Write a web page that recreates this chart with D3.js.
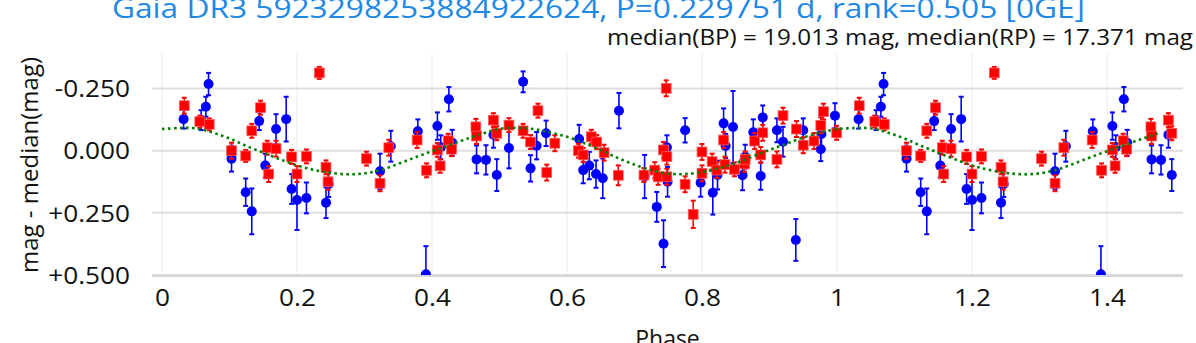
<!DOCTYPE html>
<html>
<head>
<meta charset="utf-8">
<script src="https://cdn.jsdelivr.net/npm/d3@7"></script>
<style>
  body { margin: 0; background: #fff; }
  svg { display: block; font-family: "Open Sans", sans-serif; }
</style>
</head>
<body>
<svg width="1196" height="343"></svg>
<script>
// BP (blue) points: phase, mag - median, error
var bpPhase = [0.032, 0.058, 0.065, 0.069, 0.103, 0.124, 0.133, 0.144, 0.153, 0.169, 0.184, 0.192, 0.200, 0.214, 0.243, 0.247,
  0.323, 0.339, 0.379, 0.391, 0.408, 0.413, 0.425, 0.430, 0.466, 0.480, 0.491, 0.496,
  0.514, 0.535, 0.546, 0.555, 0.569, 0.618, 0.624, 0.633, 0.643, 0.653, 0.677, 0.715, 0.733, 0.743, 0.748, 0.749,
  0.775, 0.798, 0.816, 0.823, 0.832, 0.835, 0.846, 0.860, 0.864, 0.876, 0.887, 0.890, 0.911, 0.920, 0.939, 0.950, 0.977, 0.976, 0.997];
var bpMag = [-0.127, -0.123, -0.177, -0.268, 0.032, 0.167, 0.244, -0.119, 0.060, -0.087, -0.127, 0.154, 0.198, 0.190, 0.209, 0.134,
  0.083, -0.018, -0.078, 0.497, -0.099, -0.014, -0.207, -0.032, 0.035, 0.037, -0.064, 0.098,
  -0.011, -0.277, 0.071, -0.020, -0.070, -0.047, 0.078, 0.060, 0.094, 0.111, -0.161, 0.104, 0.226, 0.374, -0.014, 0.125,
  -0.082, 0.129, 0.169, 0.098, -0.110, -0.019, -0.095, 0.099, 0.024, -0.074, 0.102, -0.134, -0.082, -0.036, 0.359, -0.082, -0.067, -0.006, -0.141];
var bpErr = [0.038, 0.040, 0.040, 0.045, 0.052, 0.055, 0.092, 0.036, 0.048, 0.060, 0.090, 0.060, 0.121, 0.062, 0.062, 0.052,
  0.071, 0.062, 0.048, 0.113, 0.055, 0.048, 0.049, 0.052, 0.056, 0.059, 0.052, 0.064,
  0.082, 0.042, 0.053, 0.055, 0.051, 0.057, 0.053, 0.055, 0.055, 0.080, 0.071, 0.087, 0.060, 0.094, 0.048, 0.060,
  0.049, 0.056, 0.088, 0.058, 0.060, 0.048, 0.145, 0.060, 0.048, 0.052, 0.055, 0.048, 0.048, 0.060, 0.084, 0.048, 0.048, 0.048, 0.050];

// RP (red) points
var rpPhase = [0.033, 0.056, 0.070, 0.103, 0.124, 0.133, 0.146, 0.156, 0.158, 0.169, 0.192, 0.200, 0.214, 0.233, 0.243, 0.246,
  0.303, 0.323, 0.336, 0.378, 0.392, 0.408, 0.412, 0.424, 0.429, 0.465, 0.466, 0.491, 0.496,
  0.514, 0.535, 0.546, 0.557, 0.570, 0.582, 0.617, 0.624, 0.636, 0.644, 0.655, 0.676, 0.714, 0.730, 0.735, 0.748, 0.747, 0.743, 0.748,
  0.775, 0.787, 0.800, 0.800, 0.815, 0.822, 0.832, 0.834, 0.848, 0.863, 0.864, 0.878, 0.887, 0.890, 0.911, 0.920, 0.940, 0.950, 0.966, 0.976, 0.980, 0.9995];
var rpMag = [-0.181, -0.117, -0.106, 0.000, 0.021, -0.080, -0.173, -0.012, 0.094, -0.008, 0.025, 0.094, 0.023, -0.313, 0.067, 0.125,
  0.032, 0.131, -0.012, -0.043, 0.079, -0.003, 0.061, -0.040, -0.006, -0.096, -0.059, -0.123, -0.070,
  -0.103, -0.080, -0.035, -0.161, 0.088, -0.030, 0.000, 0.017, -0.056, -0.035, 0.008, 0.099, 0.098, 0.078, 0.105, 0.105, -0.251, -0.003, 0.024,
  0.135, 0.256, 0.005, 0.091, 0.044, 0.078, -0.043, 0.056, 0.075, 0.053, 0.035, -0.039, 0.017, -0.072, 0.035, -0.141, -0.087, -0.022, -0.039, -0.102, -0.157, -0.072];
var rpErr = [0.032, 0.024, 0.024, 0.032, 0.024, 0.028, 0.028, 0.028, 0.032, 0.032, 0.028, 0.032, 0.028, 0.024, 0.028, 0.032,
  0.028, 0.032, 0.032, 0.032, 0.028, 0.028, 0.028, 0.028, 0.028, 0.032, 0.032, 0.028, 0.028,
  0.028, 0.028, 0.028, 0.028, 0.032, 0.032, 0.028, 0.028, 0.028, 0.028, 0.032, 0.040, 0.028, 0.032, 0.032, 0.032, 0.032, 0.032, 0.032,
  0.032, 0.055, 0.032, 0.032, 0.032, 0.032, 0.032, 0.032, 0.028, 0.032, 0.032, 0.032, 0.032, 0.032, 0.032, 0.032, 0.032, 0.032, 0.032, 0.032, 0.032, 0.028];

// fitted model (green dotted)
var modelPhase = [0.00, 0.025, 0.05, 0.075, 0.10, 0.125, 0.15, 0.175, 0.20, 0.225, 0.25, 0.275, 0.30, 0.325, 0.35, 0.375, 0.40, 0.425, 0.45, 0.475,
  0.50, 0.525, 0.55, 0.575, 0.60, 0.625, 0.65, 0.675, 0.70, 0.725, 0.75, 0.775, 0.80, 0.825, 0.85, 0.875, 0.90, 0.925, 0.95, 0.975, 1.00];
var modelMag = [-0.087, -0.091, -0.090, -0.073, -0.049, -0.019, 0.008, 0.035, 0.059, 0.077, 0.089, 0.095, 0.091, 0.077, 0.053, 0.027, 0.002, -0.022, -0.046, -0.069,
  -0.088, -0.092, -0.087, -0.073, -0.056, -0.031, -0.003, 0.029, 0.056, 0.079, 0.092, 0.094, 0.086, 0.070, 0.050, 0.023, -0.003, -0.028, -0.053, -0.073, -0.087];

var xTicks = [0, 0.2, 0.4, 0.6, 0.8, 1, 1.2, 1.4];
var yTicks = [-0.25, 0, 0.25, 0.5];

var titleText = "Gaia DR3 5923298253884922624, P=0.229751 d, rank=0.505 [0GE]";
var subText = "median(BP) = 19.013 mag, median(RP) = 17.371 mag";

// repeat phase 0..0.5 into 1..1.5
function fold(ph, mg, er) {
  var out = [];
  ph.forEach(function (p, i) {
    out.push({ p: p, m: mg[i], e: er ? er[i] : 0 });
  });
  ph.forEach(function (p, i) {
    if (p < 0.5) out.push({ p: p + 1, m: mg[i], e: er ? er[i] : 0 });
  });
  return out;
}
var bp = fold(bpPhase, bpMag, bpErr);
var rp = fold(rpPhase, rpMag, rpErr);
var model = fold(modelPhase, modelMag).filter(function (d) { return d.p <= 1.5; });
model.sort(function (a, b) { return a.p - b.p; });

var svg = d3.select("svg");
var pL = 152, pR = 1183, pT = 53, pB = 275;
var stretch = 1.14; // reference font runs wider than Open Sans

var x = d3.scaleLinear().domain([-0.0148, 1.5126]).range([pL, pR]);
var y = d3.scaleLinear().domain([-0.393, 0.5]).range([pT, pB]);

svg.append("defs").append("clipPath").attr("id", "clip")
  .append("rect").attr("x", pL).attr("y", pT).attr("width", pR - pL).attr("height", pB - pT + 1);

// grid
svg.append("g").selectAll("line").data(xTicks).enter().append("line")
  .attr("x1", function (d) { return x(d); }).attr("x2", function (d) { return x(d); })
  .attr("y1", pT).attr("y2", pB)
  .attr("stroke", "#ebebeb").attr("stroke-width", 1);

svg.append("g").selectAll("line").data(yTicks).enter().append("line")
  .attr("x1", pL).attr("x2", pR)
  .attr("y1", function (d) { return y(d); }).attr("y2", function (d) { return y(d); })
  .attr("stroke", "#dedede").attr("stroke-width", 2);

// axes (labels only)
var xAxis = svg.append("g")
  .attr("transform", "translate(0," + pB + ")")
  .call(d3.axisBottom(x).tickValues(xTicks).tickSize(0).tickPadding(15)
    .tickFormat(function (d) { return d3.format("~g")(d); }));
var yAxis = svg.append("g")
  .attr("transform", "translate(" + pL + ",0)")
  .call(d3.axisLeft(y).tickValues(yTicks).tickSize(0).tickPadding(22)
    .tickFormat(function (d) { return d === 0 ? "0.000" : (d > 0 ? "+" : "-") + Math.abs(d).toFixed(3); }));
svg.selectAll(".domain").remove();
svg.selectAll(".tick text")
  .attr("font-family", "Open Sans").attr("font-size", 23).attr("fill", "#111");
yAxis.selectAll(".tick text").attr("dy", "0.36em");
xAxis.selectAll(".tick text").attr("dy", "0.71em");

var plot = svg.append("g").attr("clip-path", "url(#clip)");

function drawErrors(data, color) {
  var g = plot.append("g").attr("stroke", color).attr("stroke-width", 1.6);
  data.forEach(function (d) {
    var cx = x(d.p), y1 = y(d.m - d.e), y2 = y(d.m + d.e);
    g.append("line").attr("x1", cx).attr("x2", cx).attr("y1", y1).attr("y2", y2);
    g.append("line").attr("x1", cx - 2.5).attr("x2", cx + 2.5).attr("y1", y1).attr("y2", y1).attr("stroke-width", 2);
    g.append("line").attr("x1", cx - 2.5).attr("x2", cx + 2.5).attr("y1", y2).attr("y2", y2).attr("stroke-width", 2);
  });
}

drawErrors(bp, "#0000ff");
plot.append("g").selectAll("circle").data(bp).enter().append("circle")
  .attr("cx", function (d) { return x(d.p); })
  .attr("cy", function (d) { return y(d.m); })
  .attr("r", 5)
  .attr("fill", "#0000ff");

drawErrors(rp, "#ff0000");
plot.append("g").selectAll("rect").data(rp).enter().append("rect")
  .attr("x", function (d) { return x(d.p) - 4.9; })
  .attr("y", function (d) { return y(d.m) - 4.9; })
  .attr("width", 9.8).attr("height", 9.8)
  .attr("fill", "#ff0000")
  .attr("stroke", "#ff5a5a").attr("stroke-width", 0.8);

plot.append("path")
  .datum(model)
  .attr("fill", "none")
  .attr("stroke", "#008000")
  .attr("stroke-width", 2.6)
  .attr("stroke-dasharray", "2.6,3.4")
  .attr("d", d3.line().curve(d3.curveCatmullRom)
    .x(function (d) { return x(d.p); })
    .y(function (d) { return y(d.m); }));

// bottom axis line
svg.append("line").attr("x1", pL).attr("x2", pR).attr("y1", pB + 1).attr("y2", pB + 1)
  .attr("stroke", "#d6d6d6").attr("stroke-width", 2);

// titles
svg.append("text")
  .attr("x", 598.5).attr("y", 18)
  .attr("text-anchor", "middle")
  .attr("font-size", 27.5)
  .attr("fill", "#1e88e5")
  .attr("textLength", 973).attr("lengthAdjust", "spacingAndGlyphs")
  .text(titleText);

svg.append("text")
  .attr("x", 1193).attr("y", 45)
  .attr("text-anchor", "end")
  .attr("font-size", 21)
  .attr("fill", "#111")
  .attr("textLength", 586).attr("lengthAdjust", "spacingAndGlyphs")
  .text(subText);

svg.append("text")
  .attr("transform", "translate(38," + ((pT + pB) / 2 + 1) + ") rotate(-90)")
  .attr("text-anchor", "middle")
  .attr("font-size", 23)
  .attr("fill", "#111")
  .attr("textLength", 216).attr("lengthAdjust", "spacingAndGlyphs")
  .text("mag - median(mag)");

svg.append("text")
  .attr("x", (pL + pR) / 2).attr("y", 347)
  .attr("text-anchor", "middle")
  .attr("font-size", 23)
  .attr("fill", "#111")
  .text("Phase");

// widen the remaining labels to match the reference's broader glyphs
svg.selectAll(".tick text").each(function () {
  var w = this.getComputedTextLength();
  d3.select(this).attr("textLength", w * stretch).attr("lengthAdjust", "spacingAndGlyphs");
});
</script>
</body>
</html>
